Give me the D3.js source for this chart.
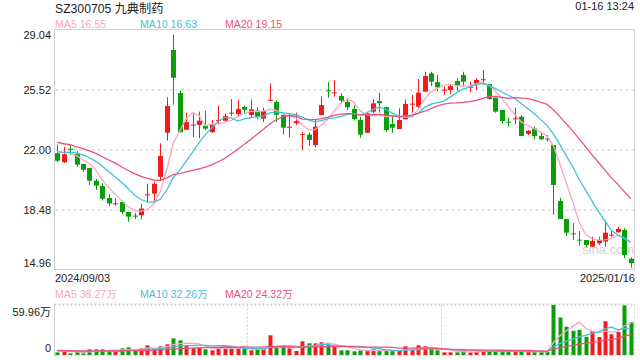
<!DOCTYPE html>
<html><head><meta charset="utf-8">
<script src="https://cdn.jsdelivr.net/npm/d3@7"></script>
<style>
html,body{margin:0;padding:0;background:#fff;}
svg{display:block;font-family:Arial,"Liberation Sans","Noto Sans CJK SC",sans-serif;}
</style></head>
<body><svg id="c" width="640" height="360"></svg>
<script>
// ---- data ----
const title = "SZ300705 九典制药";
const timeLabel = "01-16 13:24";
const startDate = "2024/09/03";
const endDate = "2025/01/16";
const priceTicks = ["29.04","25.52","22.00","18.48","14.96"];
const volTicks = ["59.96万","0"];
const maLabels = ["MA5 16.55","MA10 16.63","MA20 19.15"];
const volMaLabels = ["MA5 38.27万","MA10 32.26万","MA20 24.32万"];

const open = [21.81,21.28,22.07,21.78,21.18,20.94,20.20,19.89,19.18,18.85,
18.95,18.36,18.15,18.17,19.34,19.44,20.43,23.01,27.87,25.34,
23.19,23.47,23.47,23.43,23.04,23.74,23.72,24.17,24.11,24.52,
24.05,24.31,23.84,24.90,24.82,24.05,23.35,23.57,22.92,22.90,
22.29,24.05,25.50,25.36,25.17,24.82,24.41,23.76,23.01,24.25,
24.87,24.51,23.53,23.23,23.80,24.68,24.54,25.42,26.50,25.98,
25.50,25.52,26.05,26.40,25.69,25.87,26.13,25.87,25.07,24.35,
23.66,23.84,23.95,22.94,23.27,22.82,22.67,22.29,19.01,17.95,
17.11,16.74,16.72,16.33,16.53,16.62,16.99,17.17,17.31,15.62];
const close = [21.37,21.75,22.02,21.14,20.84,20.20,19.91,19.14,18.87,18.87,
18.36,18.09,18.13,18.56,19.40,20.02,21.65,24.58,26.24,23.04,
23.64,23.49,23.72,23.25,23.47,23.76,23.99,24.19,24.41,24.36,
24.39,23.95,24.29,24.95,24.07,23.31,23.37,23.70,22.94,22.59,
23.37,24.64,25.46,25.38,24.89,24.51,23.82,22.90,24.15,24.74,
24.74,23.17,23.31,23.76,24.70,24.72,25.36,26.34,26.01,25.68,
25.54,25.75,25.81,26.01,25.71,26.11,26.15,24.99,24.25,23.70,
23.62,23.86,22.82,23.13,22.82,22.63,22.63,19.95,17.95,17.15,
17.07,16.70,16.43,16.66,16.72,17.15,17.03,17.37,15.84,15.36];
const high = [22.33,22.19,22.35,21.94,21.18,20.94,20.30,20.06,19.42,19.18,
18.95,18.36,18.32,18.83,20.02,20.14,22.39,25.09,28.76,25.50,
24.19,24.15,24.25,24.29,23.76,24.60,24.15,24.99,24.93,24.61,
24.97,24.51,24.48,25.91,24.93,24.05,24.15,24.19,23.07,23.02,
23.76,25.13,25.99,26.11,25.33,25.03,24.64,23.95,24.25,24.99,
25.36,24.54,24.05,24.45,24.97,25.23,26.17,26.59,26.59,26.40,
25.71,25.87,26.21,26.59,26.01,26.21,26.69,25.87,25.07,24.35,
23.89,24.48,24.05,23.17,23.37,23.07,22.88,22.29,19.20,17.95,
17.73,17.25,16.72,16.91,16.91,17.79,17.31,17.50,17.41,15.70];
const low = [21.30,21.25,21.71,21.00,20.71,19.95,19.65,19.03,18.73,18.73,
18.23,17.79,17.93,17.93,18.91,19.01,20.18,22.55,24.66,23.04,
23.19,22.75,22.70,23.17,23.02,23.51,23.72,23.99,23.95,24.10,
23.95,23.80,23.63,24.88,23.64,22.90,22.75,23.47,22.00,22.25,
22.16,24.05,25.07,25.13,24.74,24.35,23.72,22.72,23.00,24.15,
24.19,23.06,22.98,23.23,23.80,24.19,24.46,25.42,25.75,25.46,
25.23,25.27,25.46,25.71,25.38,25.52,25.81,24.95,24.19,23.57,
23.37,23.51,22.80,22.88,22.63,22.59,22.49,18.19,17.95,16.95,
16.72,16.39,16.29,16.33,16.43,16.33,16.91,17.17,15.65,15.10];
// red = up day, green = down day (as coloured in the picture)
const upDay = close.map((c,i)=> c >= open[i]);
// volume in 万
const volume = [3.2,4.0,2.0,4.0,2.0,6.8,6.8,6.8,4.8,4.0,
8.0,9.2,5.2,8.0,11.6,7.2,10.4,12.8,20.0,17.6,
10.8,8.4,9.2,6.8,5.6,9.2,10.4,7.2,7.2,7.2,
5.6,7.2,7.2,23.6,9.2,9.2,8.0,4.8,16.4,14.0,
14.0,15.2,12.0,10.0,5.6,5.6,4.4,5.6,4.8,6.8,
4.8,5.6,4.8,4.8,10.4,6.4,11.6,10.4,7.2,5.6,
3.2,3.2,3.2,5.2,3.2,4.0,5.6,4.8,4.8,4.8,
3.5,3.5,5.2,3.5,3.5,3.5,3.5,59.96,45.0,34.0,
29.0,30.2,21.8,28.6,21.6,40.5,24.8,27.5,59.5,39.05];
// sessions before the visible window (estimated from where the MA lines start)
const priorCloses = [23.4,23.2,23.5,23.1,22.9,22.8,23.0,22.7,22.6,22.8,
22.2,21.8,21.7,21.9,21.9,22.0,22.1,21.95,22.08];
const priorVolumes = [5.8,6.2,5.1,4.9,6.5,5.4,5.0,6.0,5.7,5.3,
5.9,4.8,5.6,6.1,5.2,4.7,5.5,6.3,5.0];

const colors = {up:"#f21b1b", down:"#0a9e0a", ma5:"#f9a6c2", ma10:"#3fc3dd", ma20:"#ee4f82",
  text:"#222", border:"#cfcfcf", grid:"#e3e3e3"};

// ---- helpers ----
function movingAvg(prior, vals, n){
  const all = prior.concat(vals), off = prior.length;
  return vals.map((v,i)=>{ const j=i+off; const s=all.slice(j-n+1,j+1); return d3.mean(s); });
}
const n = close.length;
const svg = d3.select("#c");
const L = 54.5, R = 634.5, T = 29.5, B = 269.5;
const VT = 304.5, VB = 355;

const x = d3.scaleBand().domain(d3.range(n)).range([54, 634]);
const cx = i => x(i) + x.bandwidth()/2;
const y = d3.scaleLinear().domain([14.96, 29.04]).range([270, 30]);
const yv = d3.scaleLinear().domain([0, 59.96]).range([VB, 305]);

// header texts
svg.append("text").attr("x",55).attr("y",12.5).attr("font-size",12.2).attr("fill",colors.text).text(title);
svg.append("text").attr("x",634).attr("y",10).attr("text-anchor","end").attr("font-size",11).attr("fill",colors.text).text(timeLabel);
const maCols=[colors.ma5,colors.ma10,colors.ma20], maX=[55,140,225];
maLabels.forEach((t,k)=>svg.append("text").attr("x",maX[k]).attr("y",28).attr("font-size",10.6).attr("fill",maCols[k]).text(t));

// main frame and grid
svg.append("rect").attr("x",L).attr("y",T).attr("width",R-L).attr("height",B-T).attr("fill","none").attr("stroke",colors.border);
[1,2,3].forEach(k=>{
  const v = +priceTicks[k];
  svg.append("line").attr("x1",L+1).attr("x2",R-1).attr("y1",Math.round(y(v))).attr("y2",Math.round(y(v)))
    .attr("stroke",colors.grid).attr("stroke-width",2).attr("stroke-dasharray","3,3");
});
// y labels
priceTicks.forEach((t,k)=>{
  const v=+t; let yy=y(v)+4;
  if(k===0) yy=y(v)+9; if(k===4) yy=y(v)-3;
  svg.append("text").attr("x",51).attr("y",yy).attr("text-anchor","end").attr("font-size",11).attr("fill",colors.text).text(t);
});
// watermark
svg.append("text").attr("x",582).attr("y",254).attr("font-size",13).attr("fill","#d0d0d0").text("sina.com");

// candles
const g = svg.append("g");
d3.range(n).forEach(i=>{
  const c = upDay[i]?colors.up:colors.down;
  const xc = Math.round(cx(i));
  g.append("line").attr("x1",xc+0.5).attr("x2",xc+0.5).attr("y1",y(high[i])).attr("y2",y(low[i])).attr("stroke",c).attr("stroke-width",1);
  const top = y(Math.max(open[i],close[i])), bot = y(Math.min(open[i],close[i]));
  g.append("rect").attr("x",xc-2).attr("y",top).attr("width",5).attr("height",Math.max(1,bot-top)).attr("fill",c);
});

// MA lines
const line = d3.line().x((d,i)=>cx(i)).y(d=>y(d));
[[5,colors.ma5],[10,colors.ma10],[20,colors.ma20]].forEach(([p,c])=>{
  svg.append("path").datum(movingAvg(priorCloses,close,p)).attr("d",line).attr("fill","none").attr("stroke",c).attr("stroke-width",1.3);
});

// date labels
svg.append("text").attr("x",55).attr("y",282).attr("font-size",11).attr("fill",colors.text).text(startDate);
svg.append("text").attr("x",635).attr("y",282).attr("text-anchor","end").attr("font-size",11).attr("fill",colors.text).text(endDate);

// volume panel
volMaLabels.forEach((t,k)=>svg.append("text").attr("x",maX[k]).attr("y",298).attr("font-size",10.6).attr("fill",maCols[k]).text(t));
const dot = {stroke:"#cfcfcf", dash:"2,2"};
svg.append("line").attr("x1",L).attr("x2",R).attr("y1",VT).attr("y2",VT).attr("stroke",dot.stroke).attr("stroke-width",2).attr("stroke-dasharray",dot.dash);
svg.append("line").attr("x1",L).attr("x2",R).attr("y1",VB+0.5).attr("y2",VB+0.5).attr("stroke",dot.stroke).attr("stroke-dasharray",dot.dash);
svg.append("line").attr("x1",L).attr("x2",L).attr("y1",VT).attr("y2",VB+1).attr("stroke",colors.border);
[30,60].forEach(k=>{
  const xx = Math.round(x(k))+0.5;
  svg.append("line").attr("x1",xx).attr("x2",xx).attr("y1",VT).attr("y2",VB).attr("stroke",dot.stroke).attr("stroke-dasharray",dot.dash);
});
svg.append("line").attr("x1",R).attr("x2",R).attr("y1",VT).attr("y2",VB).attr("stroke",dot.stroke).attr("stroke-dasharray",dot.dash);
svg.append("text").attr("x",51).attr("y",316).attr("text-anchor","end").attr("font-size",11).attr("fill",colors.text).text(volTicks[0]);
svg.append("text").attr("x",51).attr("y",352).attr("text-anchor","end").attr("font-size",11).attr("fill",colors.text).text(volTicks[1]);

d3.range(n).forEach(i=>{
  const c = upDay[i]?colors.up:colors.down;
  const xc = Math.round(cx(i));
  svg.append("rect").attr("x",xc-1.5).attr("y",yv(volume[i])).attr("width",4).attr("height",VB-yv(volume[i])).attr("fill",c);
});
const vline = d3.line().x((d,i)=>cx(i)).y(d=>yv(d));
[[5,colors.ma5],[10,colors.ma10],[20,colors.ma20]].forEach(([p,c])=>{
  svg.append("path").datum(movingAvg(priorVolumes,volume,p)).attr("d",vline).attr("fill","none").attr("stroke",c).attr("stroke-width",1.3);
});
</script></body></html>
